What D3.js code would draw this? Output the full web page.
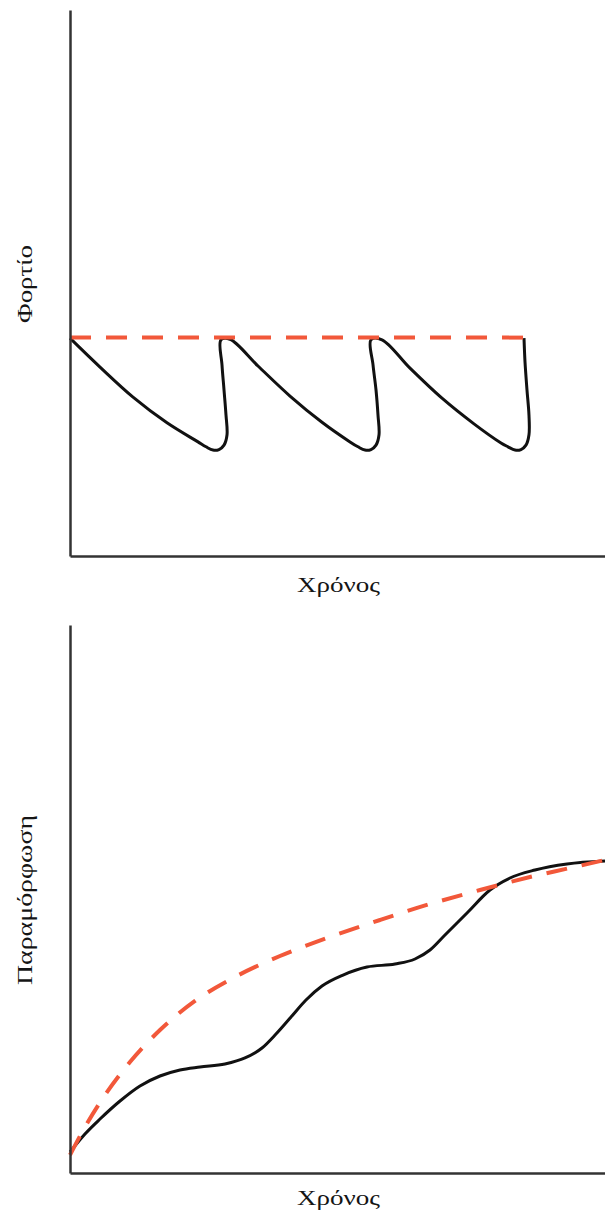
<!DOCTYPE html>
<html>
<head>
<meta charset="utf-8">
<script src="https://cdn.jsdelivr.net/npm/d3@7"></script>
<style>
  html, body { margin: 0; padding: 0; background: #fff; }
  svg { display: block; }
  text { font-family: "Liberation Serif", "DejaVu Serif", serif; fill: #151515; }
</style>
</head>
<body>
<svg id="chart" width="605" height="1218"></svg>
<script>
// Top panel: load vs time — cyclic load (black) and constant load (red dashed)
const loadTime  = [0, 5.61, 11.78, 18.13, 23.93, 25.42, 26.73, 27.85, 28.79, 29.35, 29.16, 28.79, 28.41, 28.22,
                   29.91, 35.14, 41.12, 47.10, 52.34, 53.83, 55.14, 56.26, 57.20, 57.76, 57.57, 57.20, 56.64, 56.26,
                   58.32, 63.55, 69.53, 75.51, 80.56, 81.87, 83.18, 84.30, 85.23, 85.79, 85.79, 85.42, 85.05, 84.86];
const loadValue = [39.9, 34.6, 29.1, 24.4, 20.9, 20.0, 19.4, 19.5, 20.3, 22.2, 25.8, 30.4, 35.0, 39.6,
                   39.7, 34.8, 29.3, 24.5, 20.9, 20.0, 19.4, 19.5, 20.3, 22.2, 25.8, 30.4, 35.0, 39.6,
                   39.6, 34.4, 28.9, 24.2, 20.7, 20.0, 19.4, 19.5, 20.3, 22.2, 25.8, 30.4, 35.5, 39.9];
const constLoadTime  = [0, 85];
const constLoadValue = [40, 40];

// Bottom panel: strain vs time — response to cyclic load (black) and to constant load (red dashed)
const strainTime  = [0, 2.80, 5.61, 9.35, 13.08, 16.82, 20.56, 24.30, 28.97, 32.71, 35.89, 38.50,
                     41.31, 44.11, 47.10, 51.03, 55.51, 60.75, 64.49, 67.29, 70.09, 74.21, 78.50,
                     82.24, 86.92, 92.90, 100];
const strainValue = [3.83, 7.12, 9.85, 13.14, 15.88, 17.70, 18.80, 19.34, 19.89, 20.99, 22.81, 25.36,
                     28.47, 31.57, 34.12, 36.13, 37.59, 38.14, 39.05, 40.69, 43.43, 47.45, 51.64,
                     53.83, 55.29, 56.39, 56.93];
const creepTime  = [0, 2.80, 6.54, 11.21, 16.82, 23.36, 30.84, 39.25, 48.60, 57.94, 67.29, 76.64,
                    85.98, 93.46, 100];
const creepValue = [3.28, 8.39, 14.23, 20.26, 26.09, 31.39, 35.77, 39.60, 43.07, 46.17, 49.09, 51.64,
                    54.01, 55.66, 57.12];

const axisLabels = { x: "Χρόνος", yTop: "Φορτίο", yBottom: "Παραμόρφωση" };

const svg = d3.select("#chart");
const BLACK = "#111";
const RED = "#f2583a";

function zip(xs, ys) { return xs.map((x, i) => [x, ys[i]]); }

function panel(cfg) {
  const x = d3.scaleLinear().domain([0, 100]).range([70, 605]);
  const y = d3.scaleLinear().domain([0, 100]).range([cfg.bottom, cfg.top]);
  const g = svg.append("g");

  cfg.series.forEach(s => {
    const line = d3.line().x(d => x(d[0])).y(d => y(d[1])).curve(s.curve);
    g.append("path")
      .attr("d", line(s.data))
      .attr("fill", "none")
      .attr("stroke", s.color)
      .attr("stroke-width", s.width)
      .attr("stroke-dasharray", s.dash || null)
      .attr("stroke-linecap", "butt")
      .attr("stroke-linejoin", "round");
  });

  const xAxis = g.append("g")
    .attr("transform", `translate(0,${cfg.bottom})`)
    .call(d3.axisBottom(x).ticks(0).tickSizeOuter(0));
  const yAxis = g.append("g")
    .attr("transform", "translate(70,0)")
    .call(d3.axisLeft(y).ticks(0).tickSizeOuter(0));
  [xAxis, yAxis].forEach(a => a.select(".domain")
    .attr("stroke", "#333").attr("stroke-width", 2.5));

  g.append("text")
    .attr("x", 297).attr("y", cfg.xLabelY)
    .attr("font-size", 21)
    .attr("textLength", 83).attr("lengthAdjust", "spacingAndGlyphs")
    .text(axisLabels.x);

  g.append("text")
    .attr("transform", `translate(32,${cfg.yLabelMid + cfg.yLabelLen / 2}) rotate(-90)`)
    .attr("font-size", 21)
    .attr("textLength", cfg.yLabelLen).attr("lengthAdjust", "spacingAndGlyphs")
    .text(cfg.yLabel);
}

panel({
  top: 10, bottom: 556, xLabelY: 592,
  yLabel: axisLabels.yTop, yLabelMid: 284, yLabelLen: 78,
  series: [
    { data: zip(loadTime, loadValue), color: BLACK, width: 3, curve: d3.curveCatmullRom.alpha(0.5) },
    { data: zip(constLoadTime, constLoadValue), color: RED, width: 4, dash: "21 15", curve: d3.curveLinear }
  ]
});

panel({
  top: 625, bottom: 1173, xLabelY: 1205,
  yLabel: axisLabels.yBottom, yLabelMid: 900, yLabelLen: 170,
  series: [
    { data: zip(strainTime, strainValue), color: BLACK, width: 3, curve: d3.curveMonotoneX },
    { data: zip(creepTime, creepValue), color: RED, width: 4, dash: "21 15", curve: d3.curveMonotoneX }
  ]
});
</script>
</body>
</html>
